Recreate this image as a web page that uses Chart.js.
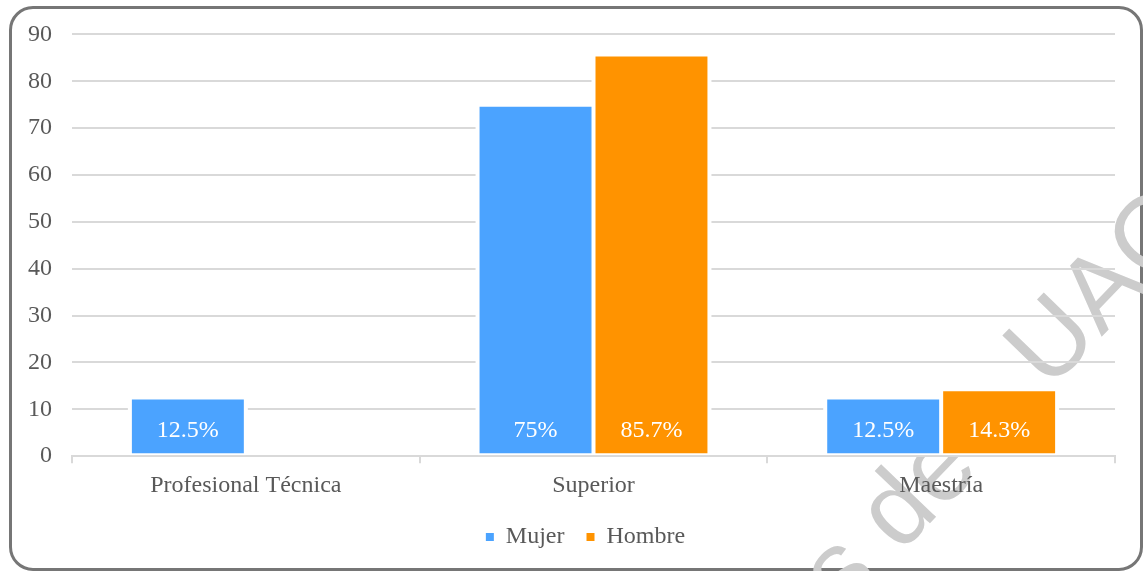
<!DOCTYPE html>
<html><head><meta charset="utf-8">
<script src="https://cdn.jsdelivr.net/npm/chart.js@4.4.1/dist/chart.umd.min.js"></script>
<style>
html,body{margin:0;padding:0;background:#fff;overflow:hidden;}
#wrap{position:relative;width:1143px;height:571px;}
#frame{position:absolute;left:9px;top:6px;width:1128px;height:559px;border:3px solid #767676;border-radius:24px;}
canvas{position:absolute;left:0;top:0;}
</style></head><body>
<div id="wrap"><div id="frame"></div><canvas id="c" width="1143" height="571"></canvas></div>
<script>
const categories = ['Profesional Técnica', 'Superior', 'Maestría'];
const seriesNames = ['Mujer', 'Hombre'];
const mujerValues = [12.5, 75, 12.5];
const hombreValues = [null, 85.7, 14.3];
const mujerLabels = ['12.5%', '75%', '12.5%'];
const hombreLabels = ['', '85.7%', '14.3%'];
const yTicks = [0, 10, 20, 30, 40, 50, 60, 70, 80, 90];
const watermarkParts = ['s de', 'UAC'];

const FONT = '"Liberation Serif", "Times New Roman", serif';
const TEXT = '#595959';
const GRID = '#d9d9d9';
const BLUE = '#4BA3FF';
const ORANGE = '#FF9300';

const seriesLabels = [mujerLabels, hombreLabels];

const watermark = {
  id: 'watermark',
  beforeDraw(chart) {
    const ctx = chart.ctx;
    const F = 105;
    const th = -46 * Math.PI / 180;
    const c = Math.cos(th), s = Math.sin(th);
    ctx.save();
    ctx.font = F + 'px "Liberation Sans", Arial, sans-serif';
    const a = ctx.measureText('U').width / 2, b = -0.36 * F;
    const ox = 1048 - (a * c - b * s);
    const oy = 338 - (a * s + b * c);
    ctx.translate(ox, oy);
    ctx.rotate(th);
    ctx.fillStyle = '#cccccc';
    ctx.textAlign = 'left';
    ctx.textBaseline = 'alphabetic';
    ctx.fillText(watermarkParts[1], 0, 0);
    const back = ctx.measureText(watermarkParts[0] + ' ').width + 74;
    ctx.fillText(watermarkParts[0], -back, 6);
    ctx.restore();
  }
};

const barHalo = {
  id: 'barHalo',
  beforeDatasetsDraw(chart) {
    const ctx = chart.ctx;
    ctx.save();
    ctx.fillStyle = '#ffffff';
    chart.data.datasets.forEach((ds, di) => {
      const meta = chart.getDatasetMeta(di);
      meta.data.forEach((el, i) => {
        if (ds.data[i] === null || ds.data[i] === undefined) return;
        const p = el.getProps(['x', 'y', 'base', 'width'], true);
        ctx.fillRect(p.x - p.width / 2 - 2, p.y - 2, p.width + 4, p.base - p.y + 1);
      });
    });
    ctx.restore();
  }
};

const valueLabels = {
  id: 'valueLabels',
  afterDatasetsDraw(chart) {
    const ctx = chart.ctx;
    ctx.save();
    ctx.font = '24px ' + FONT;
    ctx.fillStyle = '#ffffff';
    ctx.textAlign = 'center';
    ctx.textBaseline = 'middle';
    chart.data.datasets.forEach((ds, di) => {
      const meta = chart.getDatasetMeta(di);
      meta.data.forEach((el, i) => {
        const txt = seriesLabels[di][i];
        if (!txt) return;
        const p = el.getProps(['x', 'base'], true);
        ctx.fillText(txt, p.x, p.base - 24);
      });
    });
    ctx.restore();
  }
};

const legendShift = {
  id: 'legendShift',
  afterLayout(chart) {
    const lg = chart.legend;
    if (lg) {
      lg.left += 24; lg.right += 24;
      lg.top -= 5; lg.bottom -= 5;
    }
  }
};

new Chart(document.getElementById('c'), {
  type: 'bar',
  data: {
    labels: categories,
    datasets: [
      { label: seriesNames[0], data: mujerValues, backgroundColor: BLUE, borderColor: '#ffffff', borderWidth: 2, borderSkipped: false },
      { label: seriesNames[1], data: hombreValues, backgroundColor: ORANGE, borderColor: '#ffffff', borderWidth: 2, borderSkipped: false }
    ]
  },
  options: {
    responsive: false,
    animation: false,
    devicePixelRatio: 1,
    categoryPercentage: 0.667,
    barPercentage: 1,
    layout: { padding: { left: 8, right: 28, top: 27, bottom: 7 } },
    scales: {
      x: {
        grid: { drawOnChartArea: false, color: GRID, lineWidth: 2, tickLength: 7 },
        border: { color: GRID, width: 2 },
        ticks: { font: { family: FONT, size: 24 }, color: TEXT, padding: 8 }
      },
      y: {
        min: yTicks[0],
        max: yTicks[yTicks.length - 1],
        afterBuildTicks(scale) { scale.ticks = yTicks.map(v => ({ value: v })); },
        grid: { color: GRID, lineWidth: 2, drawTicks: false },
        border: { display: false },
        ticks: { font: { family: FONT, size: 24 }, color: TEXT, padding: 20 }
      }
    },
    plugins: {
      tooltip: { enabled: false },
      legend: {
        position: 'bottom',
        labels: {
          boxWidth: 8,
          boxHeight: 8,
          padding: 22,
          color: TEXT,
          font: { family: FONT, size: 24 },
          generateLabels(chart) {
            return Chart.defaults.plugins.legend.labels.generateLabels(chart).map(l => Object.assign(l, { lineWidth: 0, strokeStyle: 'rgba(0,0,0,0)' }));
          }
        }
      }
    }
  },
  plugins: [watermark, barHalo, valueLabels, legendShift]
});
</script>
</body></html>
